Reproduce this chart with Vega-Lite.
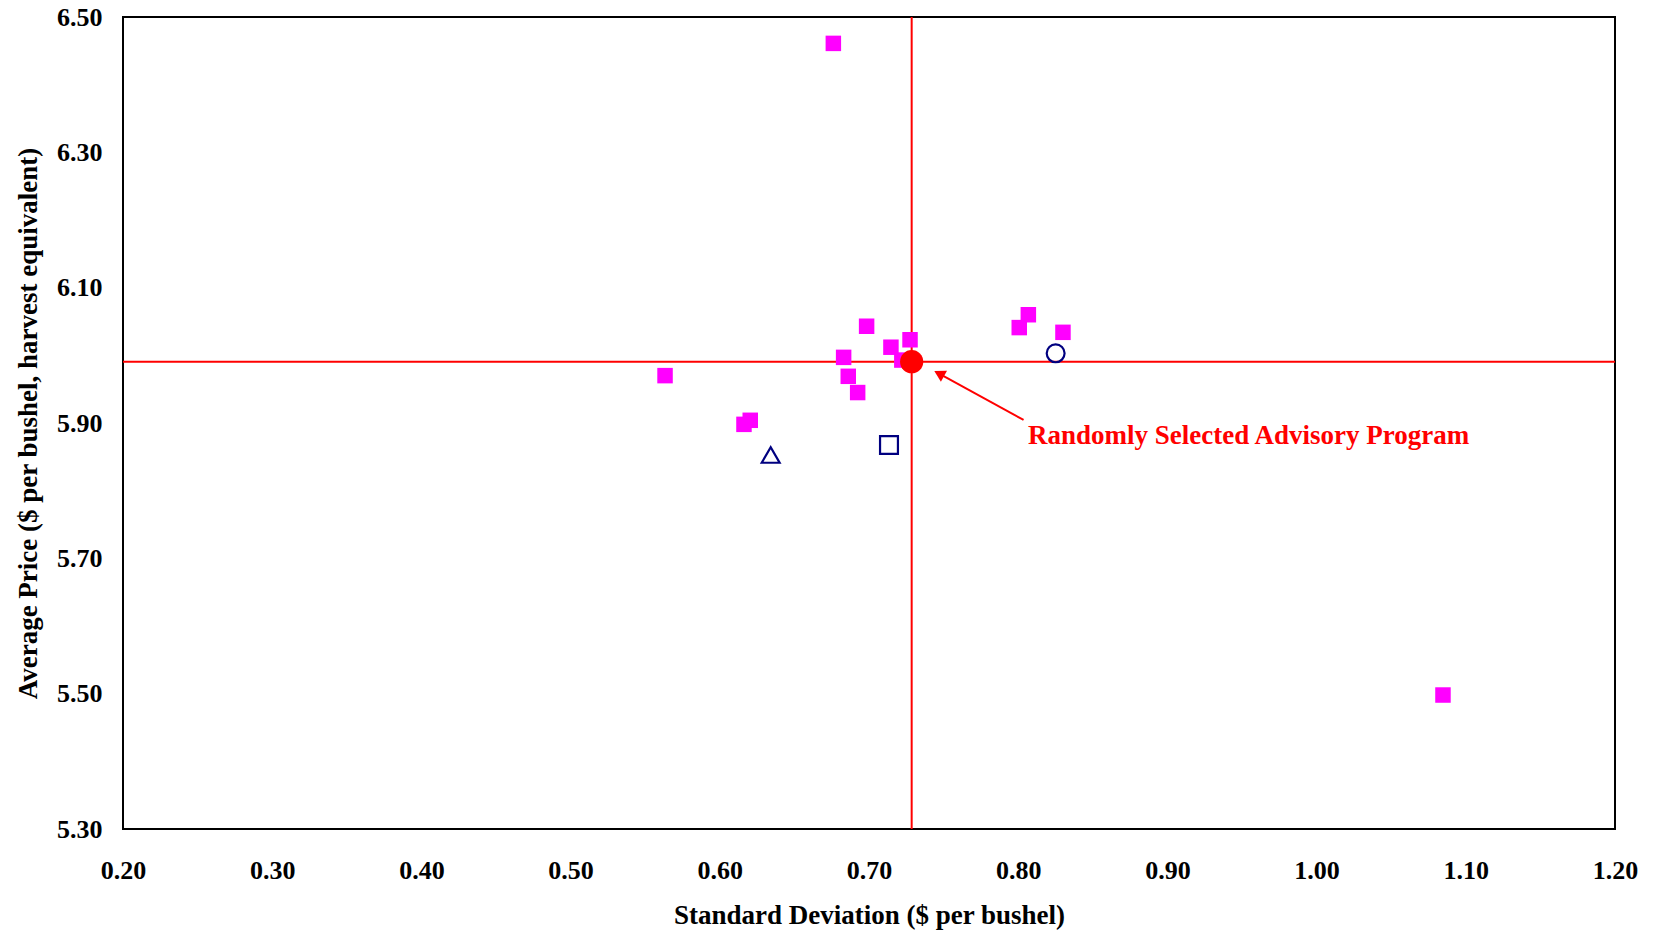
{
  "$schema": "https://vega.github.io/schema/vega-lite/v6.json",
  "width": 1492,
  "height": 812,
  "autosize": {"type": "none"},
  "padding": {"left": 123, "top": 17, "right": 38, "bottom": 104},
  "background": "white",
  "config": {
    "view": {"stroke": "#000000", "strokeWidth": 2},
    "axis": {
      "grid": false,
      "domain": false,
      "ticks": false,
      "tickSize": 0,
      "labelFont": "Liberation Serif",
      "labelFontWeight": "bold",
      "labelFontSize": 26,
      "labelColor": "#000000",
      "labelFlush": false,
      "labelOverlap": false,
      "titleFont": "Liberation Serif",
      "titleFontWeight": "bold",
      "titleFontSize": 27,
      "titleColor": "#000000"
    }
  },
  "datasets": {
    "programs": [
      {"sd": 0.5633, "price": 5.970},
      {"sd": 0.6984, "price": 6.043},
      {"sd": 0.6830, "price": 5.997},
      {"sd": 0.6861, "price": 5.969},
      {"sd": 0.6924, "price": 5.945},
      {"sd": 0.7147, "price": 6.012},
      {"sd": 0.7275, "price": 6.023},
      {"sd": 0.7220, "price": 5.993},
      {"sd": 0.8068, "price": 6.060},
      {"sd": 0.8007, "price": 6.041},
      {"sd": 0.8300, "price": 6.034},
      {"sd": 0.6204, "price": 5.904},
      {"sd": 0.6162, "price": 5.898},
      {"sd": 0.6761, "price": 6.461},
      {"sd": 1.0847, "price": 5.498}
    ],
    "benchmarks": [
      {"sd": 0.8251, "price": 6.003, "benchmark": "A"},
      {"sd": 0.7134, "price": 5.8675, "benchmark": "B"},
      {"sd": 0.6341, "price": 5.8527, "benchmark": "C"}
    ],
    "random": [{"sd": 0.7286, "price": 5.9906}],
    "arrow": [{"sd": 0.8036, "price": 5.9045, "sd2": 0.747, "price2": 5.973}],
    "label": [{"sd": 0.9544, "price": 5.8685, "text": "Randomly Selected Advisory Program"}]
  },
  "layer": [
    {
      "data": {"name": "random"},
      "mark": {"type": "rule", "color": "#FF0000", "strokeWidth": 2},
      "encoding": {
        "x": {"field": "sd", "type": "quantitative", "scale": {"domain": [0.2, 1.2], "nice": false, "zero": false},
          "axis": {"values": [0.2, 0.3, 0.4, 0.5, 0.6, 0.7, 0.8, 0.9, 1.0, 1.1, 1.2], "format": ".2f", "labelPadding": 28, "title": "Standard Deviation ($ per bushel)", "titlePadding": 19}}
      }
    },
    {
      "data": {"name": "random"},
      "mark": {"type": "rule", "color": "#FF0000", "strokeWidth": 2},
      "encoding": {
        "y": {"field": "price", "type": "quantitative", "scale": {"domain": [5.3, 6.5], "nice": false, "zero": false},
          "axis": {"values": [5.3, 5.5, 5.7, 5.9, 6.1, 6.3, 6.5], "format": ".2f", "labelPadding": 21, "title": "Average Price ($ per bushel, harvest equivalent)", "titlePadding": 14}}
      }
    },
    {
      "data": {"name": "programs"},
      "mark": {"type": "square", "color": "#FF00FF", "size": 240, "opacity": 1},
      "encoding": {
        "x": {"field": "sd", "type": "quantitative", "scale": {"domain": [0.2, 1.2], "nice": false, "zero": false}},
        "y": {"field": "price", "type": "quantitative", "scale": {"domain": [5.3, 6.5], "nice": false, "zero": false}}
      }
    },
    {
      "data": {"name": "benchmarks"},
      "mark": {"type": "point", "filled": false, "stroke": "#000080", "strokeWidth": 2.2, "opacity": 1, "size": 320},
      "encoding": {
        "x": {"field": "sd", "type": "quantitative", "scale": {"domain": [0.2, 1.2], "nice": false, "zero": false}},
        "y": {"field": "price", "type": "quantitative", "scale": {"domain": [5.3, 6.5], "nice": false, "zero": false}},
        "shape": {"field": "benchmark", "type": "nominal", "scale": {"domain": ["A", "B", "C"], "range": ["circle", "square", "triangle-up"]}, "legend": null}
      }
    },
    {
      "data": {"name": "random"},
      "mark": {"type": "circle", "color": "#FF0000", "size": 540, "opacity": 1},
      "encoding": {
        "x": {"field": "sd", "type": "quantitative", "scale": {"domain": [0.2, 1.2], "nice": false, "zero": false}},
        "y": {"field": "price", "type": "quantitative", "scale": {"domain": [5.3, 6.5], "nice": false, "zero": false}}
      }
    },
    {
      "data": {"name": "arrow"},
      "mark": {"type": "rule", "color": "#FF0000", "strokeWidth": 2},
      "encoding": {
        "x": {"field": "sd", "type": "quantitative", "scale": {"domain": [0.2, 1.2], "nice": false, "zero": false}},
        "y": {"field": "price", "type": "quantitative", "scale": {"domain": [5.3, 6.5], "nice": false, "zero": false}},
        "x2": {"field": "sd2"},
        "y2": {"field": "price2"}
      }
    },
    {
      "data": {"name": "arrow"},
      "mark": {"type": "point", "shape": "triangle-up", "filled": true, "color": "#FF0000", "size": 161, "opacity": 1, "angle": 298.7},
      "encoding": {
        "x": {"field": "sd2", "type": "quantitative", "scale": {"domain": [0.2, 1.2], "nice": false, "zero": false}},
        "y": {"field": "price2", "type": "quantitative", "scale": {"domain": [5.3, 6.5], "nice": false, "zero": false}}
      }
    },
    {
      "data": {"name": "label"},
      "mark": {"type": "text", "color": "#FF0000", "font": "Liberation Serif", "fontWeight": "bold", "fontSize": 27, "align": "center", "baseline": "alphabetic"},
      "encoding": {
        "x": {"field": "sd", "type": "quantitative", "scale": {"domain": [0.2, 1.2], "nice": false, "zero": false}},
        "y": {"field": "price", "type": "quantitative", "scale": {"domain": [5.3, 6.5], "nice": false, "zero": false}},
        "text": {"field": "text"}
      }
    }
  ]
}
